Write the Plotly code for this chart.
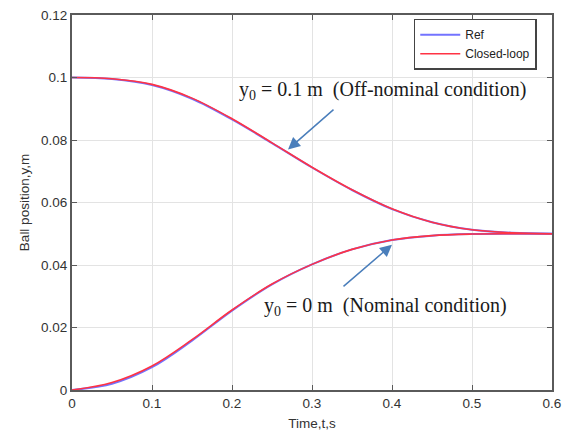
import plotly.graph_objects as go

t = [0.0, 0.05, 0.1, 0.15, 0.2, 0.25, 0.3, 0.35, 0.4, 0.45, 0.5, 0.55, 0.6]
ref_off = [0.1, 0.0995, 0.0976, 0.0932, 0.0866, 0.0790, 0.0712, 0.0640, 0.0579, 0.0537, 0.0513, 0.0503, 0.0500]
cl_off = [0.1, 0.0996, 0.0978, 0.0934, 0.0868, 0.0791, 0.0713, 0.0641, 0.0580, 0.0537, 0.0513, 0.0503, 0.0500]
ref_nom = [0.0, 0.0020, 0.0073, 0.0158, 0.0254, 0.0338, 0.0402, 0.0450, 0.0480, 0.0494, 0.0499, 0.0500, 0.0500]
cl_nom = [0.0, 0.0024, 0.0077, 0.0161, 0.0256, 0.0339, 0.0402, 0.0450, 0.0480, 0.0494, 0.0499, 0.0500, 0.0500]

xticks = [0, 0.1, 0.2, 0.3, 0.4, 0.5, 0.6]
xtick_text = ["0", "0.1", "0.2", "0.3", "0.4", "0.5", "0.6"]
yticks = [0, 0.02, 0.04, 0.06, 0.08, 0.1, 0.12]
ytick_text = ["0", "0.02", "0.04", "0.06", "0.08", "0.1", "0.12"]

BLUE = "#7373ff"
RED = "#ff3344"

fig = go.Figure()
fig.add_trace(go.Scatter(x=t, y=ref_off, mode="lines", name="Ref",
                         line=dict(color=BLUE, width=2, shape="spline", smoothing=1.0), legendgroup="r"))
fig.add_trace(go.Scatter(x=t, y=ref_nom, mode="lines", name="Ref", showlegend=False,
                         line=dict(color=BLUE, width=2, shape="spline", smoothing=1.0), legendgroup="r"))
fig.add_trace(go.Scatter(x=t, y=cl_off, mode="lines", name="Closed-loop",
                         line=dict(color=RED, width=1.6, shape="spline", smoothing=1.0), legendgroup="c"))
fig.add_trace(go.Scatter(x=t, y=cl_nom, mode="lines", name="Closed-loop", showlegend=False,
                         line=dict(color=RED, width=1.6, shape="spline", smoothing=1.0), legendgroup="c"))

tickfont = dict(family="Liberation Sans, Arial", size=13.5, color="#333333")
axis_common = dict(
    showgrid=True, gridcolor="#e3e3e3", gridwidth=1,
    showline=True, linecolor="#5a5a5a", linewidth=2, mirror="ticks",
    ticks="inside", ticklen=5, tickcolor="#5a5a5a", zeroline=False,
    tickfont=tickfont, automargin=False,
)

fig.update_xaxes(range=[0, 0.6], tickvals=xticks, ticktext=xtick_text,
                 title=dict(text="Time,t,s", font=tickfont, standoff=8),
                 **axis_common)
fig.update_yaxes(range=[0, 0.12], tickvals=yticks, ticktext=ytick_text,
                 title=dict(text="Ball position,y,m", font=tickfont, standoff=8),
                 **axis_common)

serif = dict(family="Liberation Serif, Times New Roman", size=20, color="#1a1a1a")
ann_color = "#4a7ebb"
fig.update_layout(
    width=566, height=435,
    margin=dict(l=72, r=14, t=15, b=45),
    paper_bgcolor="white", plot_bgcolor="white",
    legend=dict(x=0.712, y=0.99, xanchor="left", yanchor="top",
                bordercolor="#444444", borderwidth=1.5, bgcolor="white",
                font=dict(family="Liberation Sans, Arial", size=12, color="#222222"),
                tracegroupgap=0, itemwidth=40),
    showlegend=True,
    annotations=[
        dict(x=0.206, y=0.0960, xref="x", yref="y", text="y<sub>0</sub> = 0.1 m  (Off-nominal condition)",
             showarrow=False, xanchor="left", yanchor="middle", font=serif),
        dict(x=0.27, y=0.0770, xref="x", yref="y", ax=47, ay=-41, showarrow=True,
             arrowhead=2, arrowsize=1.6, arrowwidth=1.5, arrowcolor=ann_color, text=""),
        dict(x=0.237, y=0.0266, xref="x", yref="y", text="y<sub>0</sub> = 0 m  (Nominal condition)",
             showarrow=False, xanchor="left", yanchor="middle", font=serif),
        dict(x=0.4, y=0.0465, xref="x", yref="y", ax=-50, ay=43, showarrow=True,
             arrowhead=2, arrowsize=1.6, arrowwidth=1.5, arrowcolor=ann_color, text=""),
    ],
)

fig.write_html("out.html")
